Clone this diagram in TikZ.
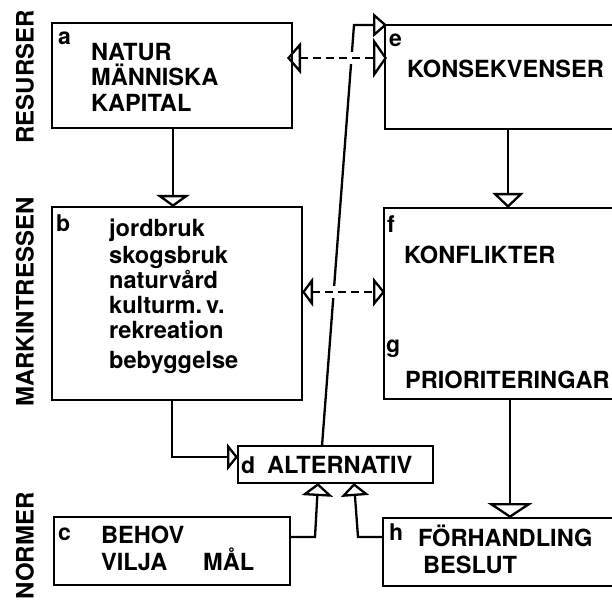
\documentclass[tikz,border=0pt]{standalone}
\usepackage{fontspec}
\setmainfont{TeX Gyre Heros}
\usetikzlibrary{arrows.meta,calc}
\begin{document}
\begin{tikzpicture}[x=1pt,y=-1pt,line width=2.3pt,
  box/.style={draw,line width=2.3pt,anchor=north west,inner sep=0pt,outer sep=0pt},
  txt/.style={anchor=base west,inner sep=0pt,font=\fontsize{23.6}{26}\selectfont\bfseries},
  lab/.style={anchor=base west,inner sep=0pt,font=\fontsize{23}{24}\selectfont\bfseries},
  side/.style={rotate=90,inner sep=0pt,font=\fontsize{24}{26}\selectfont\bfseries},
  arr/.style args={#1/#2}{-{Triangle[open,length=#1pt,width=#2pt]}},
  gap/.style={draw=white,line width=12pt}]
\useasboundingbox[fill=white] (0,0) rectangle (612,601);
% boxes
\node[box,minimum width=240pt,minimum height=105pt] (a) at (52,23) {};
\node[box,minimum width=245pt,minimum height=104pt] (e) at (385,25) {};
\node[box,minimum width=250pt,minimum height=193pt] (b) at (52,207) {};
\node[box,minimum width=245pt,minimum height=191pt] (f) at (384,208) {};
\node[box,minimum width=195pt,minimum height=37pt] (d) at (238,446) {};
\node[box,minimum width=236pt,minimum height=68pt] (c) at (54,517) {};
\node[box,minimum width=245pt,minimum height=68pt] (h) at (383,518) {};
% side labels
\node[side] (s1) at (25,77) {RESURSER};
\node[side] (s2) at (25,302) {MARKINTRESSEN};
\node[side] (s3) at (25,546) {NORMER};
% texts
\node[lab] (la) at (57,45) {a};
\node[txt] (a1) at (90,61) {NATUR};
\node[txt] (a2) at (90,86) {MÄNNISKA};
\node[txt] (a3) at (90,112) {KAPITAL};
\node[lab] (le) at (388,47) {e};
\node[txt] (e1) at (406,78) {KONSEKVENSER};
\node[lab] (lb) at (55,232) {b};
\node[txt] (b1) at (108,237) {jordbruk};
\node[txt] (b2) at (108,263) {skogsbruk};
\node[txt] (b3) at (108,288) {naturvård};
\node[txt] (b4) at (108,313) {kulturm.\,v.};
\node[txt] (b5) at (108,338) {rekreation};
\node[txt] (b6) at (108,368) {bebyggelse};
\node[lab] (lf) at (386,233) {f};
\node[txt] (f1) at (403,263) {KONFLIKTER};
\node[lab] (lg) at (385,352) {g};
\node[txt] (g1) at (404,388) {PRIORITERINGAR};
\node[lab] (ld) at (240,473) {d};
\node[txt] (d1) at (266,473) {ALTERNATIV};
\node[lab] (lc) at (57,540) {c};
\node[txt] (c1) at (100,543) {BEHOV};
\node[txt] (c2) at (100,570) {VILJA};
\node[txt] (c3) at (202,570) {MÅL};
\node[lab] (lh) at (388,540) {h};
\node[txt] (h1) at (417,546) {FÖRHANDLING};
\node[txt] (h2) at (422,573) {BESLUT};
% connector points
\coordinate (ab) at ($(a.south west)+(121,0)$);
\coordinate (ef) at ($(e.south west)+(123,0)$);
\coordinate (fh) at ($(f.south west)+(126,0)$);
\coordinate (bd) at ($(b.south west)+(120,0)$);
\coordinate (dL) at ($(d.north west)+(0,11)$);
\coordinate (cR) at ($(c.north east)+(0,20)$);
\coordinate (dS1) at ($(d.south west)+(80,0)$);
\coordinate (hL) at ($(h.north west)+(0,19)$);
\coordinate (dS2) at ($(d.south west)+(116,0)$);
\coordinate (dT) at ($(d.north west)+(84,0)$);
\coordinate (eK) at ($(e.north west)+(-31,0)$);
\coordinate (eC) at ($(e.north west)+(2,0)$);
\coordinate (aR) at ($(a.north east)+(-5,35)$);
\coordinate (eL) at ($(e.north west)+(2,33)$);
\coordinate (bR) at ($(b.north east)+(0,85)$);
\coordinate (fL) at ($(f.north west)+(1,84)$);
% connectors
\draw[arr=12/33] (ab) -- (ab |- b.north);
\draw[arr=15/31] (ef) -- (ef |- f.north);
\draw[arr=15/45] (fh) -- (fh |- h.north);
\draw[arr=11/27] (bd) |- (dL);
\draw[arr=13/31] (cR) -- ++(25,0) -- (dS1);
\draw[arr=13/28] (hL) -- ++(-25,0) -- (dS2);
\draw[arr=14/24] (dT) -- (eK) -- (eC);
% gaps where dashed lines cross
\draw[gap,shorten <=25pt,shorten >=25pt] (aR) -- (eL);
\draw[gap,shorten <=22pt,shorten >=22pt] (bR) -- (fL);
% dashed double arrows
\draw[dashed,dash pattern=on 8pt off 5pt,
  {Triangle[open,length=14pt,width=32pt]}-{Triangle[open,length=14pt,width=40pt]}] (aR) -- (eL);
\draw[dashed,dash pattern=on 8pt off 5pt,
  {Triangle[open,length=11pt,width=29pt]}-{Triangle[open,length=12pt,width=29pt]}] (bR) -- (fL);
\end{tikzpicture}
\end{document}
